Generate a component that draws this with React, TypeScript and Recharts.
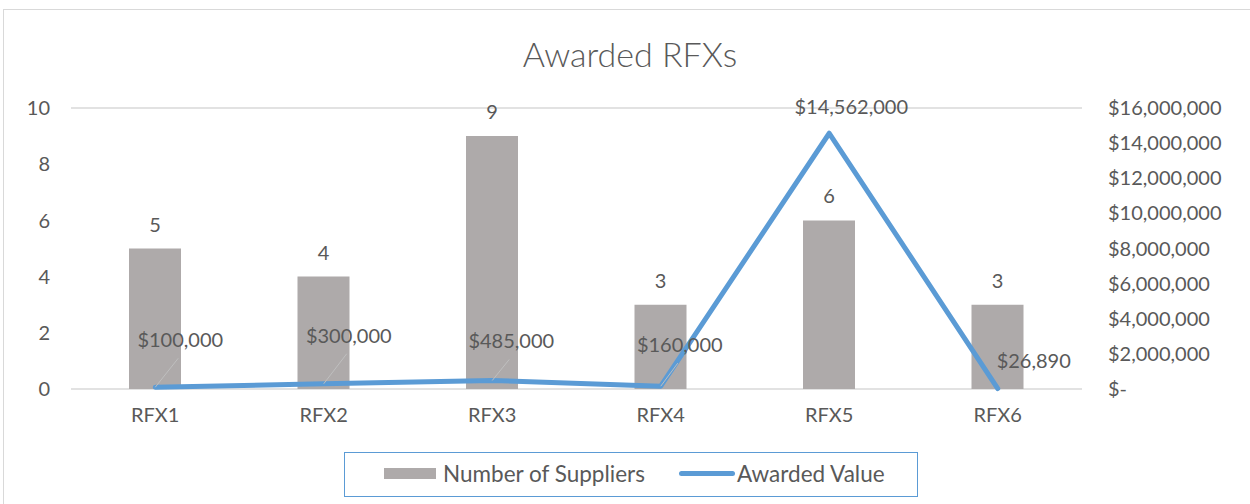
import React from 'react';
import {
  ComposedChart, Bar, Line, XAxis, YAxis, CartesianGrid, LabelList
} from 'recharts';

const categories = ['RFX1', 'RFX2', 'RFX3', 'RFX4', 'RFX5', 'RFX6'];
const supplierCounts = [5, 4, 9, 3, 6, 3];
const awardedValues = [100000, 300000, 485000, 160000, 14562000, 26890];
const leftTicks = [0, 2, 4, 6, 8, 10];
const rightTicks = [0, 2000000, 4000000, 6000000, 8000000, 10000000, 12000000, 14000000, 16000000];

const data = categories.map((name, i) => ({
  name,
  suppliers: supplierCounts[i],
  awarded: awardedValues[i],
}));

// label nudges (dx, dy from point to label centre), Excel labels were dragged by hand
const labelNudge = [
  [25, -48], [25, -49], [19, -40], [19, -42], [22, -27], [36, -29],
];

const FONT = 'Lato, "Open Sans", sans-serif';
const TEXT = '#595959';
const BAR = '#AEAAAA';
const LINE = '#5B9BD5';

const money = (v: number) => (v === 0 ? '$-' : '$' + v.toLocaleString('en-US'));

function LineLabel(props: any) {
  const { x, y, value, index } = props;
  const [dx, dy] = labelNudge[index] || [0, -20];
  const showLeader = Math.abs(dy) > 35;
  return (
    <g>
      {showLeader && (
        <line x1={x} y1={y} x2={x + dx - 2} y2={y + dy + 19} stroke="#BFBFBF" strokeWidth={1} />
      )}
      <text
        x={x + dx}
        y={y + dy}
        textAnchor="middle"
        dominantBaseline="central"
        fill={TEXT}
        fontSize={20}
        fontFamily={FONT}
      >
        {money(value)}
      </text>
    </g>
  );
}

function LegendBox() {
  const txt: React.CSSProperties = { position: 'absolute', top: 9, fontFamily: FONT, fontSize: 22.5, color: TEXT, lineHeight: '24px', whiteSpace: 'nowrap' };
  return (
    <div
      style={{
        position: 'absolute', left: 344, top: 452, width: 574, height: 45,
        border: `1.5px solid ${LINE}`, boxSizing: 'border-box',
      }}
    >
      <span style={{ position: 'absolute', left: 39, top: 15, width: 52, height: 11, background: BAR }} />
      <span style={{ ...txt, left: 98 }}>Number of Suppliers</span>
      <span style={{ position: 'absolute', left: 334, top: 18, width: 56, height: 5, borderRadius: 3, background: LINE }} />
      <span style={{ ...txt, left: 392 }}>Awarded Value</span>
    </div>
  );
}

export default function App() {
  return (
    <div style={{ position: 'fixed', left: 0, top: 0, width: 1250, height: 504, overflow: 'hidden', background: '#fff' }}>
      <div style={{ position: 'absolute', left: 3, top: 9, width: 1300, height: 560, border: '1px solid #D9D9D9' }} />
      <div
        style={{
          position: 'absolute', left: 0, top: 33, width: 1260, textAlign: 'center',
          fontFamily: FONT, fontSize: 34, fontWeight: 300, color: TEXT,
        }}
      >
        Awarded RFXs
      </div>
      <div style={{ position: 'absolute', left: 0, top: 0 }}>
        <ComposedChart width={1250} height={504} data={data} margin={{ top: 108, right: 0, bottom: 85, left: 0 }}>
          <CartesianGrid vertical={false} stroke="#D9D9D9" strokeWidth={1.5} />
          <XAxis
            dataKey="name"
            axisLine={false}
            tickLine={false}
            tickMargin={13}
            height={30}
            tick={{ fontSize: 20, fill: TEXT, fontFamily: FONT }}
          />
          <YAxis
            yAxisId="left"
            domain={[0, 10]}
            ticks={leftTicks}
            width={71}
            axisLine={false}
            tickLine={false}
            tickMargin={15}
            tick={{ fontSize: 20, fill: TEXT, fontFamily: FONT }}
          />
          <YAxis
            yAxisId="right"
            orientation="right"
            domain={[0, 16000000]}
            ticks={rightTicks}
            width={168}
            axisLine={false}
            tickLine={false}
            tickMargin={20}
            tickFormatter={money}
            tick={{ fontSize: 20, fill: TEXT, fontFamily: FONT, textAnchor: 'start' }}
          />
          <Bar yAxisId="left" dataKey="suppliers" name="Number of Suppliers" fill={BAR} barSize={52} isAnimationActive={false}>
            <LabelList dataKey="suppliers" position="top" offset={17} fill={TEXT} fontSize={20} fontFamily={FONT} />
          </Bar>
          <Line
            yAxisId="right"
            dataKey="awarded"
            name="Awarded Value"
            type="linear"
            stroke={LINE}
            strokeWidth={5}
            strokeLinecap="round"
            strokeLinejoin="round"
            dot={false}
            activeDot={false}
            isAnimationActive={false}
          >
            <LabelList dataKey="awarded" content={(p: any) => <LineLabel {...p} />} />
          </Line>
        </ComposedChart>
      </div>
      <LegendBox />
    </div>
  );
}
